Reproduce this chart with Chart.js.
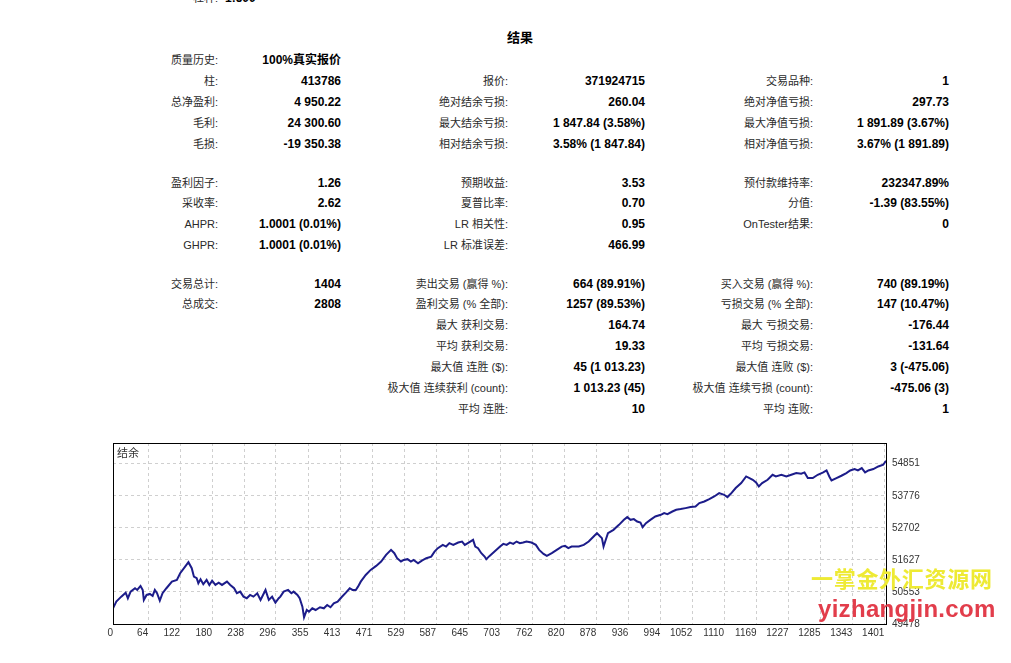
<!DOCTYPE html>
<html lang="zh">
<head>
<meta charset="utf-8">
<title>结果</title>
<script src="https://cdn.jsdelivr.net/npm/chart.js@4.4.1/dist/chart.umd.min.js"></script>
<style>
  html, body { margin: 0; padding: 0; background: #fff; }
  body { width: 1011px; height: 663px; position: relative; overflow: hidden;
         font-family: "Liberation Sans", "Noto Sans CJK SC", sans-serif; }
  .c { position: absolute; height: 20px; line-height: 20px; white-space: nowrap; }
  .lab { font-size: 11px; color: #2a2a2a; text-align: right; }
  .val { font-size: 12px; font-weight: bold; color: #000; text-align: right; }
  #title { position: absolute; left: 470px; width: 100px; top: 28px; line-height: 20px;
           text-align: center; font-size: 13px; font-weight: bold; }
  #chart-box { position: absolute; left: 100px; top: 438px; width: 828px; height: 210px; }
  .wm1 { position: absolute; left: 811px; top: 566px; line-height: 22px; font-size: 22px; font-weight: bold;
         color: #eeea34; font-family: "Noto Sans CJK SC", sans-serif; letter-spacing: 0.7px; }
  .wm2 { position: absolute; left: 818px; top: 597px; line-height: 24px; font-size: 24px; font-weight: bold;
         color: #e23d4b; letter-spacing: 0.3px; }
</style>
</head>
<body>
<div class="c lab" style="left:60px;width:158px;top:-12px">杠杆:</div>
<div class="c val" style="left:225px;top:-12px;text-align:left">1:500</div>
<div id="title">结果</div>
<div id="rows"></div>
<div id="chart-box"><canvas id="balance-chart"></canvas></div>
<div class="wm1">一掌金外汇资源网</div>
<div class="wm2">yizhangjin.com</div>
<script>
// summary table: [row centre y, label, value, label, value, label, value]
const rows = [
  [60, '质量历史:', '100%真实报价'],
  [81, '柱:', '413786', '报价:', '371924715', '交易品种:', '1'],
  [102, '总净盈利:', '4 950.22', '绝对结余亏损:', '260.04', '绝对净值亏损:', '297.73'],
  [123, '毛利:', '24 300.60', '最大结余亏损:', '1 847.84 (3.58%)', '最大净值亏损:', '1 891.89 (3.67%)'],
  [144, '毛损:', '-19 350.38', '相对结余亏损:', '3.58% (1 847.84)', '相对净值亏损:', '3.67% (1 891.89)'],
  [183, '盈利因子:', '1.26', '预期收益:', '3.53', '预付款维持率:', '232347.89%'],
  [203, '采收率:', '2.62', '夏普比率:', '0.70', '分值:', '-1.39 (83.55%)'],
  [224, 'AHPR:', '1.0001 (0.01%)', 'LR 相关性:', '0.95', 'OnTester结果:', '0'],
  [245, 'GHPR:', '1.0001 (0.01%)', 'LR 标准误差:', '466.99'],
  [284, '交易总计:', '1404', '卖出交易 (赢得 %):', '664 (89.91%)', '买入交易 (赢得 %):', '740 (89.19%)'],
  [304, '总成交:', '2808', '盈利交易 (% 全部):', '1257 (89.53%)', '亏损交易 (% 全部):', '147 (10.47%)'],
  [325, '', '', '最大 获利交易:', '164.74', '最大 亏损交易:', '-176.44'],
  [346, '', '', '平均 获利交易:', '19.33', '平均 亏损交易:', '-131.64'],
  [367, '', '', '最大值 连胜 ($):', '45 (1 013.23)', '最大值 连败 ($):', '3 (-475.06)'],
  [388, '', '', '极大值 连续获利 (count):', '1 013.23 (45)', '极大值 连续亏损 (count):', '-475.06 (3)'],
  [409, '', '', '平均 连胜:', '10', '平均 连败:', '1']
];
const cols = [[60, 158], [221, 120], [340, 168], [515, 130], [650, 163], [818, 131]];

const box = document.getElementById('rows');
rows.forEach((r) => {
  for (let i = 1; i < r.length; i++) {
    if (!r[i]) continue;
    const d = document.createElement('div');
    d.className = 'c ' + (i % 2 ? 'lab' : 'val');
    d.style.left = cols[i - 1][0] + 'px';
    d.style.width = cols[i - 1][1] + 'px';
    d.style.top = (r[0] - 10) + 'px';
    d.textContent = r[i];
    box.appendChild(d);
  }
});

// balance curve
const seriesName = '结余';
const tradeNo = [
  0, 6, 15, 23, 27, 32, 40, 44, 50, 54,
  56, 61, 67, 72, 76, 80, 85, 90, 97, 107,
  116, 122, 131, 137, 143, 147, 152, 155, 159, 164,
  170, 175, 180, 186, 192, 198, 207, 213, 220, 225,
  231, 237, 243, 249, 255, 262, 268, 277, 283, 289,
  295, 301, 304, 310, 318, 324, 328, 335, 339, 344,
  347, 352, 356, 362, 368, 376, 383, 389, 395, 401,
  408, 415, 423, 430, 435, 441, 445, 450, 459, 468,
  478, 487, 496, 505, 511, 516, 523, 528, 535, 541,
  546, 554, 561, 569, 578, 584, 590, 599, 605, 611,
  618, 627, 634, 639, 646, 654, 658, 663, 669, 675,
  678, 684, 693, 703, 709, 715, 721, 727, 733, 739,
  745, 751, 760, 768, 774, 782, 788, 797, 806, 815,
  821, 827, 833, 846, 855, 864, 873, 879, 885, 888,
  891, 894, 899, 909, 919, 928, 934, 940, 946, 952,
  958, 962, 968, 976, 985, 995, 1001, 1007, 1016, 1023,
  1031, 1040, 1049, 1058, 1065, 1074, 1083, 1092, 1101, 1110,
  1116, 1122, 1131, 1141, 1150, 1156, 1162, 1168, 1173, 1179,
  1189, 1198, 1204, 1214, 1223, 1232, 1241, 1250, 1256, 1262,
  1271, 1280, 1290, 1296, 1301, 1305, 1314, 1323, 1332, 1339,
  1347, 1353, 1360, 1366, 1372, 1381, 1390, 1399, 1404
];
const balance = [
  50000, 50227, 50395, 50529, 50341, 50563, 50677, 50620, 50754, 50620,
  50284, 50452, 50485, 50418, 50620, 50509, 50260, 50509, 50677, 50898,
  50955, 51180, 51402, 51550, 51348, 51066, 51013, 50845, 50979, 50811,
  50955, 50788, 50932, 50788, 50865, 50788, 50898, 50788, 50677, 50509,
  50563, 50395, 50341, 50452, 50395, 50509, 50284, 50620, 50284, 50395,
  50193, 50341, 50395, 50563, 50620, 50509, 50563, 50452, 50341, 50059,
  49700, 49948, 49891, 50005, 49948, 50039, 50005, 50116, 50039, 50173,
  50227, 50375, 50529, 50677, 50620, 50620, 50731, 50898, 51123, 51291,
  51426, 51570, 51795, 51963, 51852, 51684, 51570, 51627, 51651, 51570,
  51627, 51516, 51604, 51684, 51738, 51906, 52020, 52131, 52074, 52188,
  52131, 52208, 52242, 52131, 52208, 52299, 52074, 52020, 51852, 51738,
  51651, 51761, 51906, 52074, 52164, 52131, 52208, 52164, 52242, 52188,
  52208, 52242, 52208, 52131, 51963, 51829, 51761, 51852, 51963, 52074,
  52097, 52020, 52074, 52074, 52131, 52242, 52410, 52524, 52410, 52356,
  52074, 52242, 52524, 52635, 52802, 52970, 53061, 52970, 52994, 52913,
  52880, 52725, 52860, 52970, 53081, 53138, 53195, 53162, 53249, 53306,
  53330, 53363, 53397, 53417, 53531, 53585, 53665, 53753, 53867, 53810,
  53733, 53843, 54035, 54203, 54424, 54371, 54314, 54223, 54089, 54203,
  54314, 54481, 54424, 54481, 54424, 54481, 54539, 54515, 54559, 54371,
  54371, 54481, 54559, 54626, 54424, 54290, 54371, 54448, 54539, 54626,
  54673, 54626, 54706, 54559, 54626, 54673, 54760, 54817, 54950
];
const xTickLabels = [0, 64, 122, 180, 238, 296, 355, 413, 471, 529, 587, 645, 703,
  762, 820, 878, 936, 994, 1052, 1110, 1169, 1227, 1285, 1343, 1401];
const yTickLabels = [49478, 50553, 51627, 52702, 53776, 54851];

// black frame round the plot plus the series caption in its corner
const framePlugin = {
  id: 'frame',
  afterDraw(chart) {
    const { ctx, chartArea: a } = chart;
    ctx.save();
    ctx.strokeStyle = '#000';
    ctx.lineWidth = 1;
    ctx.strokeRect(Math.round(a.left) + 0.5, Math.round(a.top) + 0.5,
      Math.round(a.right - a.left), Math.round(a.bottom - a.top));
    ctx.fillStyle = '#333';
    ctx.font = '11px "Noto Sans CJK SC", sans-serif';
    ctx.textBaseline = 'middle';
    ctx.fillText(seriesName, a.left + 4, a.top + 10);
    ctx.restore();
  }
};

// the labels may hang past the plot edges; do not let them shrink it
const noOverhang = (s) => {
  s.paddingTop = 0;
  s.paddingBottom = 0;
  s.paddingLeft = 0;
  s.paddingRight = 0;
};

const gridStyle = { color: '#cfcfcf', drawTicks: false };
const tickFont = { family: '"Liberation Sans", sans-serif', size: 10 };

new Chart(document.getElementById('balance-chart'), {
  type: 'line',
  data: {
    datasets: [{
      label: seriesName,
      data: tradeNo.map((t, i) => ({ x: t, y: balance[i] })),
      borderColor: '#1c1c8a',
      borderWidth: 2,
      pointRadius: 0,
      tension: 0,
      fill: false
    }]
  },
  options: {
    responsive: true,
    maintainAspectRatio: false,
    animation: false,
    layout: { padding: { left: 13, top: 5, right: 0, bottom: 0 } },
    plugins: { legend: { display: false }, tooltip: { enabled: false } },
    scales: {
      x: {
        type: 'linear',
        min: 0,
        max: 1404,
        afterBuildTicks: (s) => { s.ticks = xTickLabels.map((v) => ({ value: v })); },
        afterFit: (s) => { s.height = 24; noOverhang(s); },
        grid: gridStyle,
        border: { display: false, dash: [3, 3] },
        ticks: { autoSkip: false, maxRotation: 0, align: 'end', padding: 3, color: '#333', font: tickFont,
                 callback: (v) => String(v) }
      },
      y: {
        position: 'right',
        min: 49478,
        max: 55546,
        afterBuildTicks: (s) => { s.ticks = yTickLabels.map((v) => ({ value: v })); },
        afterFit: (s) => { s.width = 42; noOverhang(s); },
        grid: gridStyle,
        border: { display: false, dash: [3, 3] },
        ticks: { padding: 6, color: '#333', font: tickFont, callback: (v) => String(v) }
      }
    }
  },
  plugins: [framePlugin]
});
</script>
</body>
</html>
